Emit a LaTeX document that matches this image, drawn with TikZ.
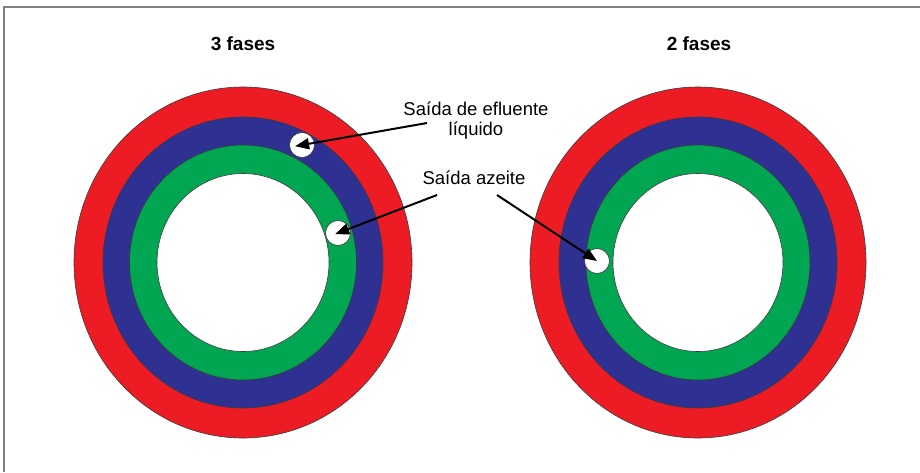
\documentclass[tikz,border=0pt]{standalone}
\usepackage{fontspec}
\setmainfont{Liberation Sans}
\usetikzlibrary{arrows.meta}
\definecolor{ringred}{HTML}{ED1C24}
\definecolor{ringblue}{HTML}{2E3192}
\definecolor{ringgreen}{HTML}{00A651}
\definecolor{edge}{HTML}{3A3A3A}
\definecolor{framegray}{HTML}{808080}
\tikzset{
  ring/.style={draw=edge, line width=0.6pt},
  outlet/.style={circle, draw=edge, line width=0.6pt, fill=white, minimum size=25pt, inner sep=0pt},
  label/.style={font=\fontsize{18.5}{20}\selectfont, anchor=base, inner sep=0pt},
  heading/.style={font=\fontsize{19}{22}\selectfont\bfseries, anchor=base, inner sep=0pt},
  pointer/.style={line width=2pt, -{Triangle[length=14pt,width=11pt]}}
}
\begin{document}
\begin{tikzpicture}[x=1pt, y=-1pt]
  \useasboundingbox (0,0) rectangle (920,472);
  \fill[white] (0,0) rectangle (920,472);
  % frame (top and left edges)
  \draw[framegray, line width=1.5pt] (4,472) -- (4,7) -- (920,7);

  % left drum: three phases
  \filldraw[ring, fill=ringred]   (243,262.5) ellipse [x radius=169pt,   y radius=175.5pt];
  \filldraw[ring, fill=ringblue]  (243,262.5) ellipse [x radius=140pt,   y radius=145.5pt];
  \filldraw[ring, fill=ringgreen] (243,262.5) ellipse [x radius=113.5pt, y radius=117.5pt];
  \filldraw[ring, fill=white]     (243,262.5) ellipse [x radius=86pt,    y radius=89pt];

  % right drum: two phases
  \filldraw[ring, fill=ringred]   (698,262.5) ellipse [x radius=168pt,   y radius=175.5pt];
  \filldraw[ring, fill=ringblue]  (698,262.5) ellipse [x radius=139pt,   y radius=145.5pt];
  \filldraw[ring, fill=ringgreen] (698,262.5) ellipse [x radius=112pt,   y radius=117.5pt];
  \filldraw[ring, fill=white]     (698,262.5) ellipse [x radius=85pt,    y radius=89pt];

  % outlets
  \node[outlet] (liq3) at (302,145) {};
  \node[outlet] (oil3) at (338,233) {};
  \node[outlet] (oil2) at (597,261) {};

  % headings
  \node[heading] (h3) at (243,50) {3 fases};
  \node[heading] (h2) at (699,50) {2 fases};

  % labels
  \node[label] (efl) at (476,115) {Saída de efluente};
  \node[label] (liq) at (476,135) {líquido};
  \node[label] (aze) at (474,184) {Saída azeite};

  % pointer tails
  \coordinate (tliq) at (427,123);
  \coordinate (toil3) at (437,195);
  \coordinate (toil2) at (497,195);

  \draw[pointer, shorten >=-7pt] (tliq) -- (liq3.center);
  \draw[pointer, shorten >=-3pt] (toil3) -- (oil3.center);
  \draw[pointer] (toil2) -- (oil2.center);
\end{tikzpicture}
\end{document}
